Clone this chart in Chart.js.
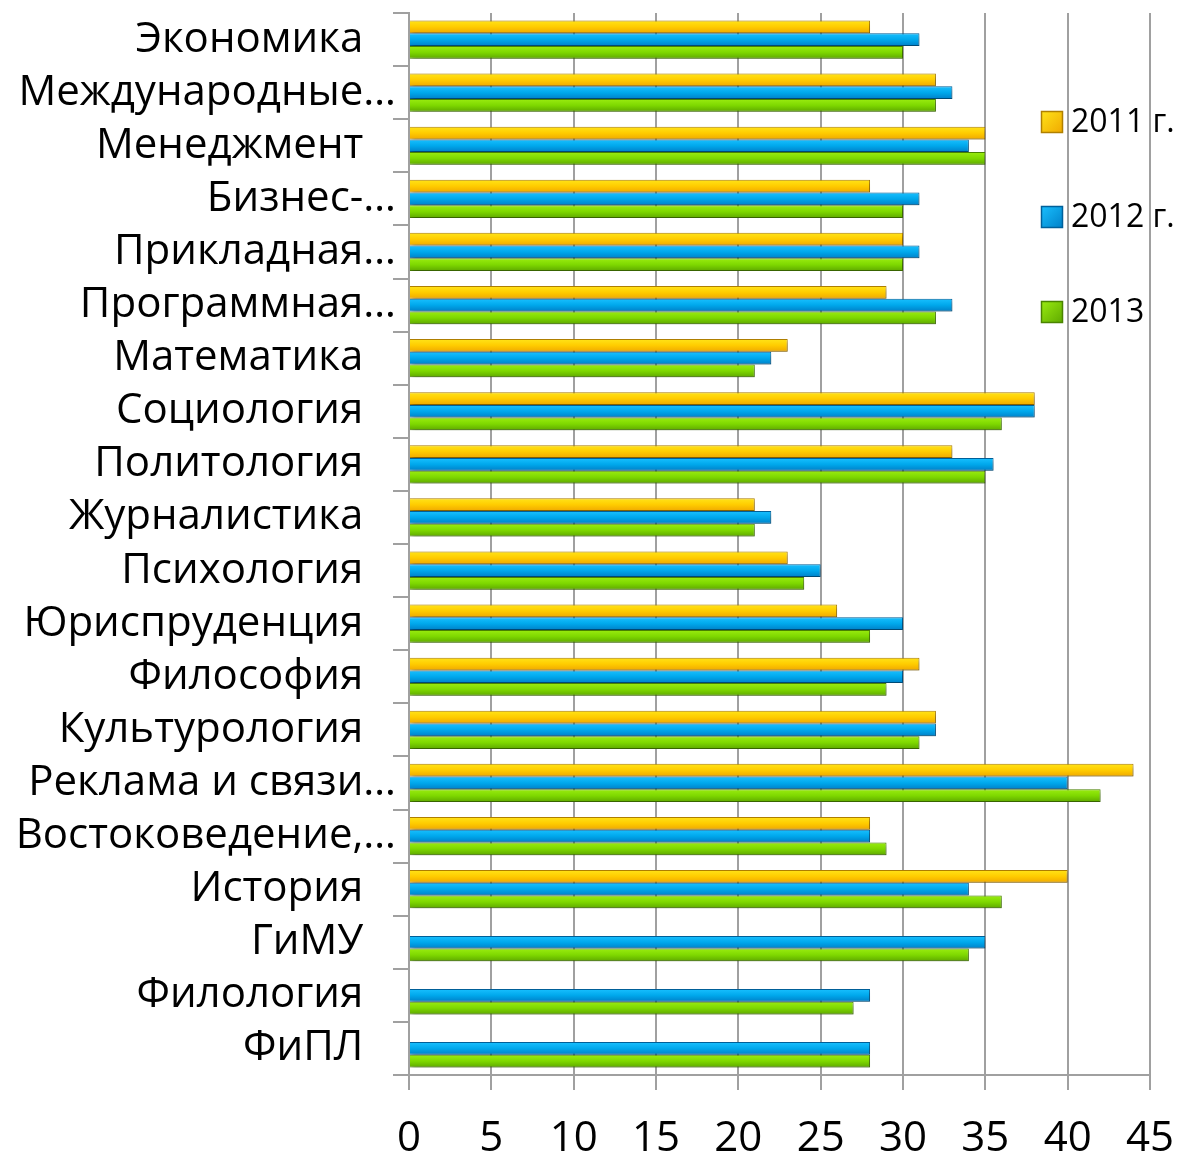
<!DOCTYPE html>
<html>
<head>
<meta charset="utf-8">
<script src="https://cdn.jsdelivr.net/npm/chart.js@4.4.0/dist/chart.umd.min.js"></script>
<style>
  html, body { margin: 0; padding: 0; background: #fff; }
  #wrap { width: 1177px; height: 1156px; }
</style>
</head>
<body>
<div id="wrap"><canvas id="chart"></canvas></div>
<script>
// categories, top to bottom as in the picture
const categories = ['Экономика', 'Международные…', 'Менеджмент', 'Бизнес-…', 'Прикладная…',
  'Программная…', 'Математика', 'Социология', 'Политология', 'Журналистика', 'Психология',
  'Юриспруденция', 'Философия', 'Культурология', 'Реклама и связи…', 'Востоковедение,…',
  'История', 'ГиМУ', 'Филология', 'ФиПЛ'];
const values2011 = [28, 32, 35, 28, 30, 29, 23, 38, 33, 21, 23, 26, 31, 32, 44, 28, 40, null, null, null];
const values2012 = [31, 33, 34, 31, 31, 33, 22, 38, 35.5, 22, 25, 30, 30, 32, 40, 28, 34, 35, 28, 28];
const values2013 = [30, 32, 35, 30, 30, 32, 21, 36, 35, 21, 24, 28, 29, 31, 42, 29, 36, 34, 27, 28];
const seriesNames = ['2011 г.', '2012 г.', '2013'];
const xMin = 0, xMax = 45, xStep = 5;

const FONT = '"Open Sans", "Noto Sans", sans-serif';
const CAT_PCT = 0.72;
const palette = [
  { light: '#ffe419', mid: '#ffcc00', dark: '#f0a800', border: '#b08000' },
  { light: '#19c0ff', mid: '#00a8ec', dark: '#0080c8', border: '#00609a' },
  { light: '#9aec10', mid: '#7ed800', dark: '#5ea800', border: '#4a8400' }
];

// vertical gradient for each bar, placed from the y scale
function barFill(p) {
  return function (c) {
    const chart = c.chart;
    const y = chart.scales.y;
    if (c.type !== 'data' || !y || !chart.chartArea) return p.mid;
    const catH = (y.bottom - y.top) / categories.length;
    const groupH = catH * CAT_PCT;
    const barH = groupH / 3;
    const top = y.getPixelForValue(c.dataIndex) - groupH / 2 + c.datasetIndex * barH;
    const g = chart.ctx.createLinearGradient(0, top, 0, top + barH);
    g.addColorStop(0, p.light);
    g.addColorStop(0.5, p.mid);
    g.addColorStop(1, p.dark);
    return g;
  };
}

const shadow = {
  id: 'shadow',
  beforeDatasetsDraw(chart) {
    const ctx = chart.ctx;
    ctx.save();
    ctx.shadowColor = 'rgba(0,0,0,0.28)';
    ctx.shadowBlur = 4;
    ctx.shadowOffsetX = 2;
    ctx.shadowOffsetY = 3;
  },
  afterDatasetsDraw(chart) { chart.ctx.restore(); }
};

// legend sits inside the plot on the right, like the original
const sideLegend = {
  id: 'sideLegend',
  afterDraw(chart) {
    const ctx = chart.ctx;
    const x = chart.chartArea.right - 109;
    const rows = [122, 217, 312];
    ctx.save();
    seriesNames.forEach((name, i) => {
      const p = palette[i];
      const y = rows[i];
      const g = ctx.createLinearGradient(x, y - 11, x + 22, y + 11);
      g.addColorStop(0, p.light);
      g.addColorStop(1, p.dark);
      ctx.fillStyle = g;
      ctx.fillRect(x, y - 11, 22, 22);
      ctx.strokeStyle = p.border;
      ctx.lineWidth = 1.5;
      ctx.strokeRect(x + 0.5, y - 10.5, 21, 21);
      ctx.fillStyle = '#000';
      ctx.font = '32px ' + FONT;
      ctx.textBaseline = 'middle';
      ctx.fillText(name, x + 30, y + 1);
    });
    ctx.restore();
  }
};

const datasets = [values2011, values2012, values2013].map((vals, i) => ({
  label: seriesNames[i],
  data: vals,
  backgroundColor: barFill(palette[i]),
  borderColor: palette[i].border,
  borderWidth: 1,
  categoryPercentage: CAT_PCT,
  barPercentage: 1.0
}));

new Chart(document.getElementById('chart'), {
  type: 'bar',
  data: { labels: categories, datasets: datasets },
  options: {
    indexAxis: 'y',
    responsive: true,
    maintainAspectRatio: false,
    animation: false,
    layout: { padding: { top: 13, right: 27, left: 0, bottom: 0 } },
    plugins: { legend: { display: false }, tooltip: { enabled: false } },
    scales: {
      x: {
        min: xMin, max: xMax,
        afterFit(s) { s.height = 81; s.paddingRight = 0; s.paddingLeft = 0; },
        ticks: { stepSize: xStep, color: '#000', padding: 28, font: { family: FONT, size: 42, lineHeight: 1 } },
        grid: { color: '#a0a0a0', lineWidth: 2, tickLength: 15 },
        border: { color: '#a0a0a0', width: 2 }
      },
      y: {
        afterFit(s) { s.width = 409; s.paddingTop = 0; s.paddingBottom = 0; },
        ticks: {
          autoSkip: false, color: '#000', padding: -3,
          font: { family: FONT, size: 42 },
          callback(v) {
            const t = categories[v];
            return t.endsWith('…') ? t : t + '   ';
          }
        },
        grid: { drawOnChartArea: false, offset: true, tickLength: 16, color: '#a0a0a0', lineWidth: 2 },
        border: { color: '#a0a0a0', width: 2 }
      }
    }
  },
  plugins: [shadow, sideLegend]
});
</script>
</body>
</html>
